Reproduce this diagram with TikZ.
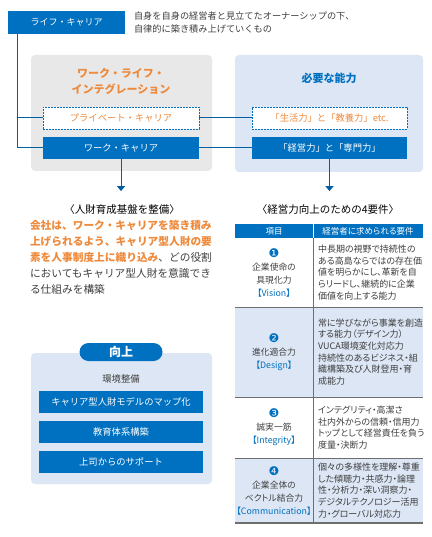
\documentclass[tikz,border=0pt]{standalone}
\usepackage{fontspec}
\setmainfont{Noto Sans CJK JP}
\newfontfamily\tightfont{Noto Sans CJK JP}[RawFeature=+palt]
\newfontfamily\numfont{DejaVu Sans}
\usetikzlibrary{arrows.meta,positioning,calc}

\definecolor{corpblue}{RGB}{0,112,192}
\definecolor{paleblue}{RGB}{220,230,244}
\definecolor{palegray}{RGB}{232,232,232}
\definecolor{accent}{RGB}{238,138,60}
\definecolor{inktext}{RGB}{64,64,64}
\definecolor{rulegray}{RGB}{110,110,110}

\newcommand{\setfs}[2]{\fontsize{#1}{#2}\selectfont}
\newcommand{\rownum}[1]{{\numfont\setfs{12}{13}\color{corpblue}#1}}

\begin{document}
\begin{tikzpicture}[
  x=1pt, y=-1pt,
  every node/.style={inner sep=0pt, outer sep=0pt},
  box/.style={minimum width=156pt, minimum height=22pt, align=center, font=\setfs{9.3}{11}},
  solidbox/.style={box, fill=corpblue, text=white},
  dashbox/.style={box, draw=corpblue, fill=white, text=accent, line width=0.8pt, dash pattern=on 2pt off 1pt},
  measure/.style={solidbox, minimum width=164pt},
  title/.style={align=center, font=\setfs{11}{16}\bfseries},
  heading/.style={font=\setfs{10.5}{13}, text=black},
  note/.style={align=left, font=\setfs{9.2}{13}, text=inktext},
  pill/.style={fill=corpblue, text=white, minimum width=83pt, minimum height=18pt, rounded corners=9pt, font=\setfs{12}{14}\bfseries},
  panel/.style={rounded corners=4pt},
  hcell/.style={fill=corpblue, text=white, minimum height=14pt, align=center, font=\tightfont\setfs{8.5}{11}},
  itemcell/.style={minimum width=78pt, align=center, text=inktext, font=\tightfont\setfs{8.8}{13}},
  reqcell/.style={minimum width=110pt, text width=100pt, inner xsep=5pt, align=left, text=inktext, font=\tightfont\setfs{9}{11.7}},
  shaded/.style={fill=paleblue},
  rule/.style={draw=rulegray, line width=1pt},
  link/.style={draw=corpblue!85!black, line width=1pt},
  arrow/.style={link, -{Triangle[width=8pt,length=5pt]}}
]
  \path[fill=white] (0,0) rectangle (431,537);

  \node[solidbox, minimum width=117pt, minimum height=23pt, font=\setfs{9}{11}] (life) at (66.5,22.5) {ライフ・キャリア};
  \node[note, anchor=west] (lifenote) at (134,22.5) {自身を自身の経営者と見立てたオーナーシップの下、\\自律的に築き積み上げていくもの};

  \path[fill=palegray, panel] (31,55) rectangle (212,171);
  \path[fill=paleblue, panel] (235,55) rectangle (423,172);

  \node[title, text=accent] (wlititle) at (121,81) {ワーク・ライフ・\\インテグレーション};
  \node[dashbox] (private) at (121,118) {プライベート・キャリア};
  \node[solidbox, below=8pt of private] (work) {ワーク・キャリア};

  \node[title, text=corpblue] (skilltitle) at (329,78) {必要な能力};
  \node[dashbox, minimum width=155pt] (basicskill) at (329.5,118) {「生活力」と「教養力」etc.};
  \node[solidbox, minimum width=155pt, below=8pt of basicskill] (coreskill) {「経営力」と「専門力」};

  \coordinate (trunk) at (17,0);
  \draw[link] (trunk |- life.south) -- (trunk |- work) -- (work);
  \draw[link] (trunk |- private) -- (private);
  \draw[link] (private) -- (basicskill);
  \draw[link] (work) -- (coreskill);

  \node[heading] (hrdtitle) at (122,210) {〈人財育成基盤を整備〉};
  \node[heading] (reqtitle) at (328,210) {〈経営力向上のための4要件〉};
  \draw[arrow, shorten >=14pt] (work.south) -- (work.south |- hrdtitle.north);
  \draw[arrow, shorten >=14pt] (coreskill.south) -- (coreskill.south |- reqtitle.north);

  \node[note, font=\setfs{10.7}{16}, anchor=north west] (hrdtext) at (30,220) {%
    {\color{accent}\bfseries 会社は、ワーク・キャリアを築き積み}\\
    {\color{accent}\bfseries 上げられるよう、キャリア型人財の要}\\
    {\color{accent}\bfseries 素を人事制度上に織り込み}、どの役割\\
    においてもキャリア型人財を意識でき\\
    る仕組みを構築};

  \path[fill=paleblue, panel] (31,353) rectangle (212,484);
  \node[pill] (uplift) at (121,352) {向上};
  \node[font=\setfs{9.3}{11}, text=inktext] (envtitle) at (121,379) {環境整備};
  \node[measure] (careermap) at (121,402) {キャリア型人財モデルのマップ化};
  \node[measure, below=8pt of careermap] (edusys) {教育体系構築};
  \node[measure, below=8pt of edusys] (bosshelp) {上司からのサポート};

  \node[hcell, minimum width=78pt, anchor=north west] (hitem) at (235,224) {項目};
  \node[hcell, minimum width=110pt, right=0pt of hitem] (hreq) {経営者に求められる要件};
  \draw[white, line width=1pt] (hitem.north east) -- (hitem.south east);

  \node[itemcell, minimum height=69pt, below=0pt of hitem] (v1) {\rownum{❶}\\企業使命の\\具現化力\\\textcolor{corpblue}{【Vision】}};
  \node[reqcell, minimum height=69pt, right=0pt of v1] (r1) {中長期の視野で持続性の\\ある高島ならではの存在価\\値を明らかにし、革新を自\\らリードし、継続的に企業\\価値を向上する能力};
  \node[itemcell, shaded, minimum height=90pt, below=0pt of v1] (v2) {\rownum{❷}\\進化適合力\\\textcolor{corpblue}{【Design】}};
  \node[reqcell, shaded, minimum height=90pt, right=0pt of v2] (r2) {常に学びながら事業を創造\\する能力（デザイン力）\\VUCA環境変化対応力\\持続性のあるビジネス・組\\織構築及び人財登用・育\\成能力};
  \node[itemcell, minimum height=61pt, below=0pt of v2] (v3) {\rownum{❸}\\誠実一筋\\\textcolor{corpblue}{【Integrity】}};
  \node[reqcell, minimum height=61pt, right=0pt of v3] (r3) {インテグリティ・高潔さ\\社内外からの信頼・信用力\\トップとして経営責任を負う\\度量・決断力};
  \node[itemcell, shaded, minimum height=65pt, below=0pt of v3] (v4) {\rownum{❹}\\企業全体の\\ベクトル結合力\\\textcolor{corpblue}{【Communication】}};
  \node[reqcell, shaded, minimum height=65pt, right=0pt of v4] (r4) {個々の多様性を理解・尊重\\した傾聴力・共感力・論理\\性・分析力・深い洞察力・\\デジタルテクノロジー活用\\力・グローバル対応力};

  \draw[rule] (v1.south west) -- (r1.south east);
  \draw[rule] (v2.south west) -- (r2.south east);
  \draw[rule] (v3.south west) -- (r3.south east);
  \draw[rule, line width=1.6pt] (v4.south west) -- (r4.south east);
  \draw[rule] (v1.north east) -- (v4.south east);
\end{tikzpicture}
\end{document}
